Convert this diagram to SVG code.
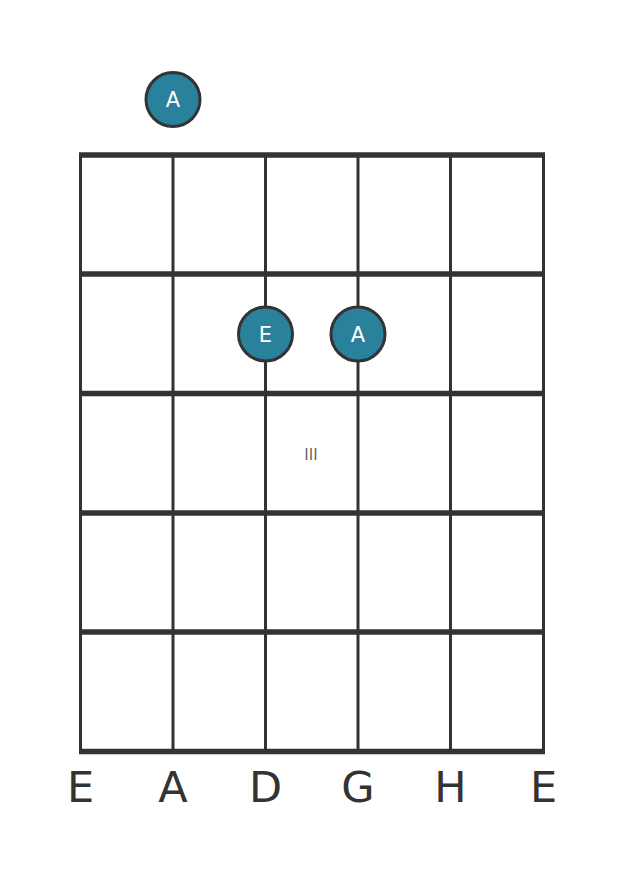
<svg xmlns="http://www.w3.org/2000/svg" width="626" height="873" viewBox="0 0 626 873">
<style>
.fret{stroke:#333;stroke-width:5.5;}
.str{stroke:#333;stroke-width:3;}
.dot{fill:#2a819b;stroke:#333;stroke-width:3;}
.dl{fill:#fff;font-family:"DejaVu Sans",sans-serif;font-size:21px;text-anchor:middle;}
.sl{fill:#333;font-family:"DejaVu Sans",sans-serif;font-size:43px;text-anchor:middle;}
.pos{fill:#666;font-family:"DejaVu Sans",sans-serif;font-size:15px;text-anchor:middle;}
</style>
<rect width="626" height="873" fill="#fff"/>
<g id="fretboard">
<line class="str" x1="80.5" y1="155" x2="80.5" y2="751"/>
<line class="str" x1="173" y1="155" x2="173" y2="751"/>
<line class="str" x1="265.5" y1="155" x2="265.5" y2="751"/>
<line class="str" x1="358" y1="155" x2="358" y2="751"/>
<line class="str" x1="450.5" y1="155" x2="450.5" y2="751"/>
<line class="str" x1="543.5" y1="155" x2="543.5" y2="751"/>
<line class="fret" x1="79" y1="155" x2="545" y2="155"/>
<line class="fret" x1="79" y1="274" x2="545" y2="274"/>
<line class="fret" x1="79" y1="393.5" x2="545" y2="393.5"/>
<line class="fret" x1="79" y1="513" x2="545" y2="513"/>
<line class="fret" x1="79" y1="632" x2="545" y2="632"/>
<line class="fret" x1="79" y1="751.5" x2="545" y2="751.5"/>
<text class="pos" x="311" y="460">III</text>
</g>
<g id="dot-open-A">
<circle class="dot" cx="173" cy="99.5" r="27"/>
<text class="dl" x="173" y="107">A</text>
</g>
<g id="dot-E">
<circle class="dot" cx="265.5" cy="334" r="27"/>
<text class="dl" x="265.5" y="341.5">E</text>
</g>
<g id="dot-A">
<circle class="dot" cx="358" cy="334" r="27"/>
<text class="dl" x="358" y="341.5">A</text>
</g>
<g id="string-labels">
<text class="sl" x="80.5" y="802">E</text>
<text class="sl" x="173" y="802">A</text>
<text class="sl" x="265.5" y="802">D</text>
<text class="sl" x="358" y="802">G</text>
<text class="sl" x="450.5" y="802">H</text>
<text class="sl" x="543.5" y="802">E</text>
</g>
</svg>
